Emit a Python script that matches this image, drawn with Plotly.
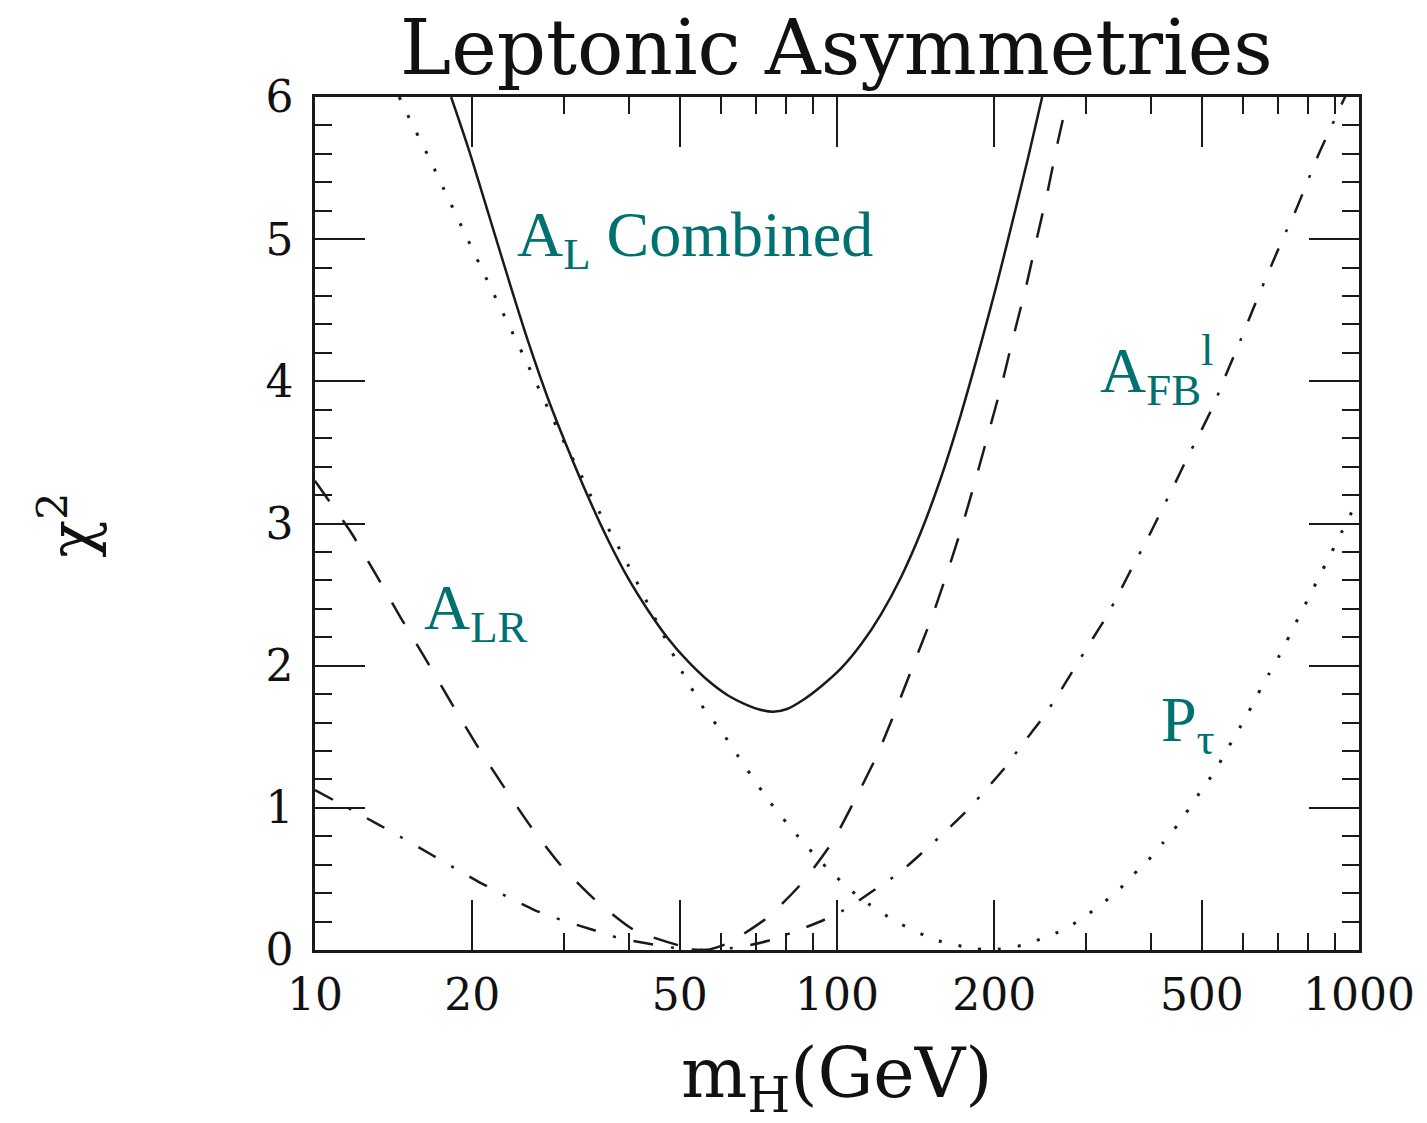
import plotly.graph_objects as go

# ---------------- data ----------------
mh_combined = [18.23, 19.72, 21.53, 23.50, 25.66, 28.01, 30.57, 33.37, 36.43, 39.77, 43.41,
               47.38, 51.72, 56.46, 61.63, 67.27, 71.0, 75.5, 80.2, 86.36, 93.43, 102.0, 111.3,
               121.5, 132.7, 144.8, 158.1, 172.6, 188.4, 202.9, 217.7, 232.5, 247.2]
chi_combined = [6.0, 5.627, 5.170, 4.713, 4.270, 3.869, 3.517, 3.186, 2.884, 2.617, 2.392,
                2.195, 2.033, 1.899, 1.794, 1.723, 1.692, 1.676, 1.695, 1.762, 1.857, 1.984,
                2.152, 2.363, 2.624, 2.940, 3.320, 3.763, 4.256, 4.699, 5.149, 5.578, 6.0]

mh_alr = [10, 10.31, 11.71, 13.06, 14.58, 16.27, 18.23, 20.34, 22.79, 25.77, 29.51, 34.25,
          40.9, 50.1, 56, 62, 73.8, 86.0, 98.0, 108.4, 119.4, 129.8, 140.5, 152.0, 163.0,
          174.1, 185.1, 196.0, 207.4, 218.6, 230.4, 241.8, 253.8, 265.1, 277]
chi_alr = [3.30, 3.23, 2.94, 2.645, 2.34, 2.05, 1.74, 1.45, 1.17, 0.88, 0.60, 0.36,
           0.14, 0.03, 0.0, 0.05, 0.232, 0.478, 0.76, 1.062, 1.372, 1.695, 2.019, 2.342,
           2.666, 2.996, 3.334, 3.665, 3.995, 4.34, 4.67, 5.015, 5.353, 5.69, 6.0]

mh_afb = [10, 11.76, 13.18, 14.71, 16.63, 18.63, 20.79, 23.39, 26.33, 29.65, 33.66, 38.22,
          42.83, 50, 57, 65, 73.5, 82.6, 94.3, 105.6, 116.3, 131.5, 145.4, 160.2, 176.4,
          192.5, 210.2, 227.4, 246.1, 265.1, 284.4, 305.0, 327.1, 347.8, 369.8, 393.2,
          418.1, 442.6, 468.6, 498.2, 527.6, 553.6, 583.4, 628.5, 679.9, 717.0, 755.6,
          796.3, 835.6, 884.6, 932.4, 1000]
chi_afb = [1.125, 0.985, 0.886, 0.788, 0.675, 0.570, 0.471, 0.373, 0.281, 0.211, 0.148, 0.084,
           0.049, 0.01, 0.0, 0.02, 0.063, 0.127, 0.211, 0.302, 0.408, 0.542, 0.682, 0.823,
           0.971, 1.125, 1.287, 1.456, 1.618, 1.794, 1.977, 2.159, 2.335, 2.518, 2.708,
           2.891, 3.088, 3.271, 3.461, 3.651, 3.84, 4.03, 4.227, 4.52, 4.818, 5.015, 5.198,
           5.402, 5.592, 5.789, 5.972, 6.2]

mh_ptau = [14.5, 15.16, 16.55, 17.98, 19.55, 21.25, 25.09, 29.65, 32.36, 33.8, 39.77, 46.3,
           50.6, 56.0, 59.5, 66.4, 74.4, 83.7, 95.5, 110.4, 129.8, 154.6, 180, 197, 227.4,
           248.3, 271.0, 295.8, 318.6, 344.8, 369.8, 395.0, 421.8, 448.5, 474.9, 500.5,
           529.9, 555.9, 583.4, 612.2, 639.6, 671.2, 704.4, 735.9, 768.9, 803.3, 839.3,
           876.9, 916.3, 957.2, 1000]
chi_ptau = [6.0, 5.85, 5.57, 5.29, 5.01, 4.73, 4.18, 3.61, 3.34, 3.19, 2.71, 2.23,
            1.95, 1.68, 1.56, 1.30, 1.04, 0.81, 0.58, 0.37, 0.20, 0.07, 0.015, 0.0, 0.035,
            0.084, 0.141, 0.225, 0.313, 0.415, 0.531, 0.633, 0.756, 0.876, 1.006, 1.132,
            1.259, 1.395, 1.528, 1.663, 1.797, 1.938, 2.073, 2.211, 2.352, 2.487, 2.628,
            2.764, 2.904, 3.045, 3.17]

x_tickvals = [10, 20, 50, 100, 200, 500, 1000]
x_ticktext = ["10", "20", "50", "100", "200", "500", "1000"]
x_minor = [30, 40, 60, 70, 80, 90, 300, 400, 600, 700, 800, 900]
y_tickvals = [0, 1, 2, 3, 4, 5, 6]

title_text = "Leptonic Asymmetries"
xtitle_text = "m<sub>H</sub>(GeV)"
ytitle_text = "χ<sup>2</sup>"
label_combined = "A<sub>L</sub> Combined"
label_alr = "A<sub>LR</sub>"
label_afb = "A<sub>FB</sub><sup>l</sup>"
label_ptau = "P<sub>τ</sub>"

# ---------------- figure ----------------
W, H = 1427, 1123
L, R, T, B = 315, 1366, 97, 950
INK = "#1a1a1a"
TEAL = "#007070"


def px(xp):
    return (xp - L) / (R - L)


def py(yp):
    return (B - yp) / (B - T)


fig = go.Figure()
fig.add_trace(go.Scatter(x=mh_combined, y=chi_combined, mode="lines",
                         line=dict(color=INK, width=2.5, shape="spline", smoothing=0.8)))
fig.add_trace(go.Scatter(x=mh_alr, y=chi_alr, mode="lines",
                         line=dict(color=INK, width=2.5, dash="25px,23px",
                                   shape="spline", smoothing=0.6)))
fig.add_trace(go.Scatter(x=mh_afb, y=chi_afb, mode="lines",
                         line=dict(color=INK, width=2.5, dash="20px,18px,3px,18px",
                                   shape="spline", smoothing=0.6)))
fig.add_trace(go.Scatter(x=mh_ptau, y=chi_ptau, mode="lines",
                         line=dict(color=INK, width=3, dash="3px,17px",
                                   shape="spline", smoothing=0.6)))

axis_font = dict(family="DejaVu Serif", size=44, color="#111")

fig.update_xaxes(type="log", range=[1, 3], tickmode="array", tickvals=x_tickvals,
                 ticktext=x_ticktext, ticks="inside", ticklen=50, tickwidth=2,
                 tickcolor=INK, showline=True, linecolor=INK, linewidth=2.5,
                 mirror="ticks", showgrid=False, zeroline=False, tickfont=axis_font,
                 ticklabelstandoff=4,
                 minor=dict(tickmode="array", tickvals=x_minor, ticks="inside",
                            ticklen=17, tickwidth=2, tickcolor=INK, showgrid=False))
fig.update_yaxes(range=[0, 6], tickmode="array", tickvals=y_tickvals,
                 ticks="inside", ticklen=50, tickwidth=2, tickcolor=INK,
                 showline=True, linecolor=INK, linewidth=2.5, mirror="ticks",
                 showgrid=False, zeroline=False, tickfont=axis_font,
                 ticklabelstandoff=10,
                 minor=dict(dtick=0.2, ticks="inside", ticklen=17, tickwidth=2,
                            tickcolor=INK, showgrid=False))

ann = []
ann.append(dict(text=title_text, x=px(840), y=py(47), xref="paper", yref="paper",
                xanchor="center", yanchor="middle", showarrow=False,
                font=dict(family="DejaVu Serif", size=77, color="#111")))
ann.append(dict(text=xtitle_text, x=px(840), y=py(1078), xref="paper", yref="paper",
                xanchor="center", yanchor="middle", showarrow=False,
                font=dict(family="DejaVu Serif", size=70, color="#111")))
ann.append(dict(text=ytitle_text, x=px(65), y=py(525), xref="paper", yref="paper",
                xanchor="center", yanchor="middle", showarrow=False, textangle=-90,
                font=dict(family="DejaVu Serif", size=62, color="#111")))
label_font = dict(family="Liberation Serif", size=64, color=TEAL)
ann.append(dict(text=label_combined, x=px(516), y=py(239), xref="paper", yref="paper",
                xanchor="left", yanchor="middle", showarrow=False, font=label_font))
ann.append(dict(text=label_alr, x=px(423), y=py(612), xref="paper", yref="paper",
                xanchor="left", yanchor="middle", showarrow=False, font=label_font))
ann.append(dict(text=label_afb, x=px(1103), y=py(370), xref="paper", yref="paper",
                xanchor="left", yanchor="middle", showarrow=False, font=label_font))
ann.append(dict(text=label_ptau, x=px(1165), y=py(724), xref="paper", yref="paper",
                xanchor="left", yanchor="middle", showarrow=False, font=label_font))

fig.update_layout(width=W, height=H, margin=dict(l=L, r=W - R, t=T, b=H - B),
                  paper_bgcolor="white", plot_bgcolor="white", showlegend=False,
                  annotations=ann)

fig.write_html("out.html")
